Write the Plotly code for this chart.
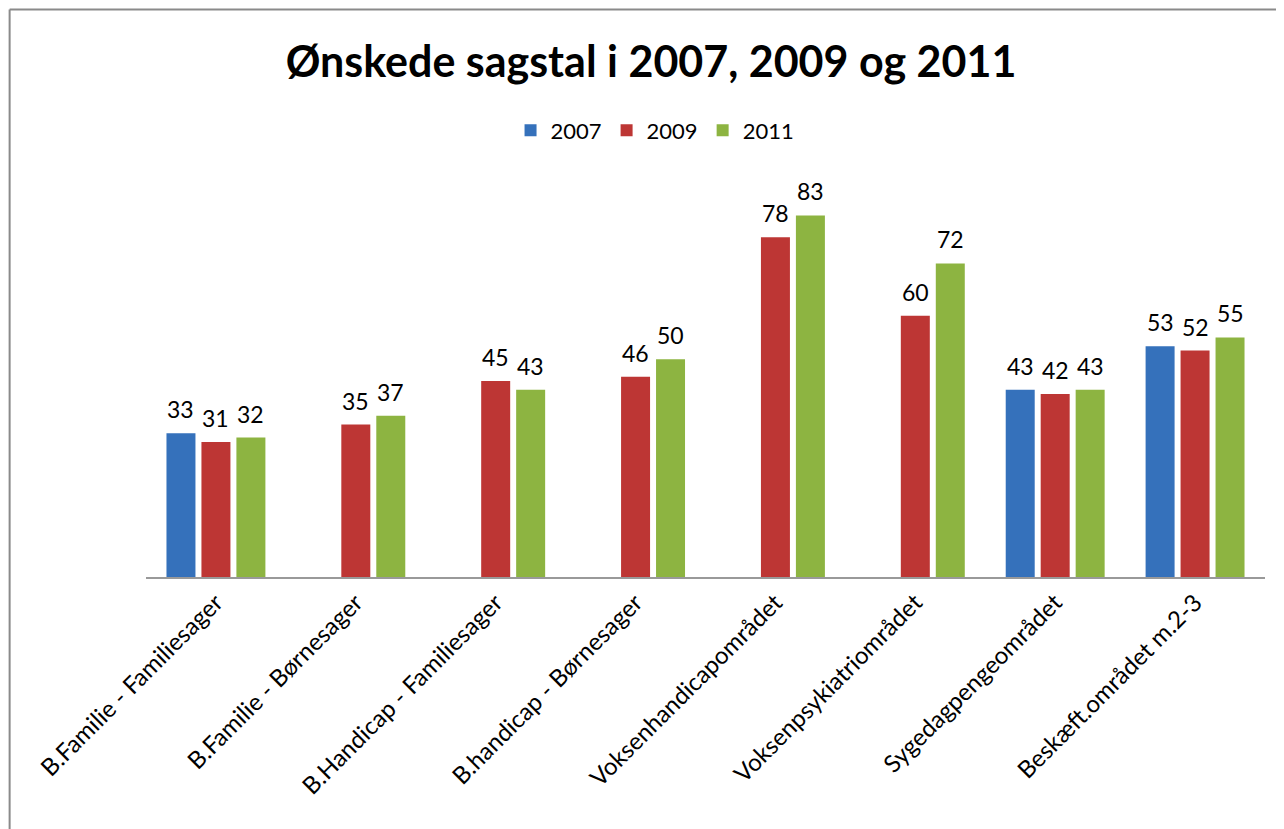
import plotly.graph_objects as go

categories = ["B.Familie - Familiesager", "B.Familie - Børnesager", "B.Handicap - Familiesager",
              "B.handicap - Børnesager", "Voksenhandicapområdet", "Voksenpsykiatriområdet",
              "Sygedagpengeområdet", "Beskæft.området m.2-3"]
v2007 = [33, None, None, None, None, None, 43, 53]
v2009 = [31, 35, 45, 46, 78, 60, 42, 52]
v2011 = [32, 37, 43, 50, 83, 72, 43, 55]
series_names = ["2007", "2009", "2011"]
colors = ["#3571BB", "#BD3634", "#8DB441"]

FONT = "Lato, Open Sans, sans-serif"
OFF = 8  # page body margin
W, H = 1284 - OFF, 829 - OFF
left, right_px, top, bottom = 145.5 - OFF, 1265.5 - OFF, 184.6 - OFF, 577.0 - OFF
ymax = 90

fig = go.Figure()
annotations = []
for si, (name, vals, col) in enumerate(zip(series_names, [v2007, v2009, v2011], colors)):
    fig.add_trace(go.Bar(
        x=list(range(len(categories))), y=vals, name=name,
        marker=dict(color=col, line=dict(width=0)),
    ))
    for ci, v in enumerate(vals):
        if v is None:
            continue
        annotations.append(dict(x=ci + (si - 1) * 0.25, y=v, xref="x", yref="y", text=str(v),
                                showarrow=False, yanchor="bottom", yshift=8,
                                font=dict(size=23, color="black", family=FONT)))

pw = right_px - left
ph = bottom - top
fig.update_layout(
    width=W, height=H,
    margin=dict(l=left, r=W - right_px, t=top, b=H - bottom, autoexpand=False),
    paper_bgcolor="white", plot_bgcolor="white",
    barmode="group", bargap=0.25, bargroupgap=0.171,
    title=dict(text="<b>Ønskede sagstal i 2007, 2009 og 2011</b>", x=(651 - OFF) / W, xanchor="center",
               y=1 - (62 - OFF) / H, yanchor="middle",
               font=dict(size=43, color="black", family=FONT)),
    legend=dict(orientation="h", x=(655 - OFF - left) / pw, xanchor="center",
                y=(bottom - (130 - OFF)) / ph, yanchor="middle",
                font=dict(size=22, color="black", family=FONT),
                itemwidth=30, traceorder="normal"),
    font=dict(family=FONT, color="black"),
    xaxis=dict(showline=True, linecolor="#999999", linewidth=2, ticks="", tickangle=-45,
               tickmode="array", tickvals=list(range(len(categories))), ticktext=categories,
               range=[-0.5, len(categories) - 0.5],
               tickfont=dict(size=24, color="black"), showgrid=False),
    yaxis=dict(range=[0, ymax], visible=False, showgrid=False, zeroline=False),
    annotations=annotations,
    shapes=[
        dict(type="line", xref="paper", yref="paper",
             x0=(9 - OFF - left) / pw, x1=(W + 10 - left) / pw,
             y0=(bottom - (9 - OFF)) / ph, y1=(bottom - (9 - OFF)) / ph,
             line=dict(color="#8a8a8a", width=2)),
        dict(type="line", xref="paper", yref="paper",
             x0=(9 - OFF - left) / pw, x1=(9 - OFF - left) / pw,
             y0=(bottom - (9 - OFF)) / ph, y1=(bottom - H - 10) / ph,
             line=dict(color="#8a8a8a", width=2)),
    ],
)
fig.write_html("out.html")
